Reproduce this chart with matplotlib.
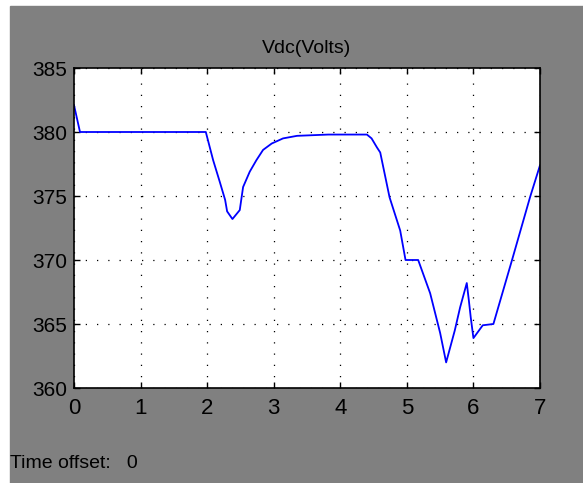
import matplotlib
matplotlib.use("Agg")
import matplotlib.pyplot as plt
from matplotlib.patches import Rectangle

# scope trace: DC link voltage vs time
t = [0.0, 0.09, 1.98, 2.09, 2.19, 2.27, 2.30, 2.38, 2.49, 2.54, 2.64, 2.74,
     2.84, 2.97, 3.14, 3.35, 3.82, 4.40, 4.47, 4.55, 4.60, 4.74, 4.90, 4.98,
     5.17, 5.35, 5.50, 5.59, 5.72, 5.80, 5.90, 5.93, 5.96, 6.00, 6.14, 6.30,
     6.58, 6.85, 7.00]
vdc = [382.1, 380.0, 380.0, 377.8, 376.1, 374.7, 373.8, 373.2, 373.9, 375.7,
       376.9, 377.8, 378.6, 379.1, 379.5, 379.7, 379.8, 379.8, 379.5, 378.8,
       378.4, 374.9, 372.3, 370.0, 370.0, 367.4, 364.3, 362.0, 364.5, 366.3,
       368.2, 366.9, 365.5, 363.9, 364.9, 365.0, 370.0, 374.9, 377.4]
xticks = [0, 1, 2, 3, 4, 5, 6, 7]
yticks = [360, 365, 370, 375, 380, 385]

plt.rcParams['font.family'] = ['Liberation Sans', 'DejaVu Sans']

W, H = 583, 483
fig = plt.figure(figsize=(W / 100, H / 100), dpi=100, facecolor="white")
# grey scope panel behind everything
fig.patches.append(Rectangle((10 / W, 0), 1 - 10 / W, 1 - 6 / H,
                             transform=fig.transFigure, color="#808080", zorder=-10))

ax = fig.add_axes([74 / W, 1 - 388 / H, 466 / W, 320 / H])
ax.set_facecolor("white")
ax.plot(t, vdc, color=(0, 0, 1), lw=1.3)

ax.set_xlim(0, 7)
ax.set_ylim(360, 385)
ax.set_xticks(xticks)
ax.set_yticks(yticks)
ax.tick_params(direction="in", length=4, width=1, top=True, right=True,
               colors="black")
ax.tick_params(axis="x", labelsize=16, pad=7)
ax.tick_params(axis="y", labelsize=15, pad=5)
ax.grid(True, color="black", linestyle=(0, (1, 8)), linewidth=0.9)
for s in ax.spines.values():
    s.set_linewidth(1.2)
    s.set_color("black")

ax.set_title("Vdc(Volts)", fontsize=14, pad=11)
fig.text(10 / W, 1 - 464 / H, "Time offset:   0", fontsize=14, va="center", ha="left")

fig.savefig("out.png", dpi=100, facecolor="white")
